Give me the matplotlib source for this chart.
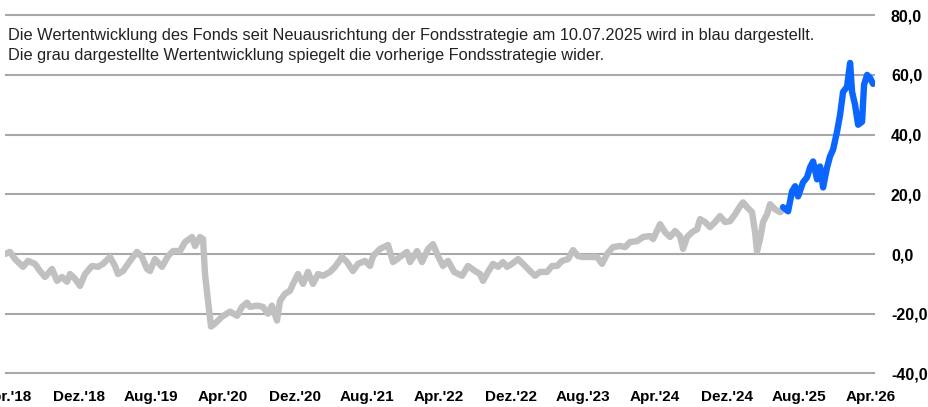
import matplotlib.pyplot as plt
from matplotlib.ticker import FuncFormatter

# Monate seit April 2018 und Wertentwicklung in %
monate_alt = [-0.22, 0.33, 0.89, 1.78, 2.33, 3.11, 3.67, 4.22, 5.0, 5.56, 6.11, 6.67, 7.0, 7.56,
              8.11, 8.67, 9.44, 10.11, 10.67, 11.44, 12.0, 12.33, 12.89, 13.67, 14.44, 15.0,
              15.56, 15.89, 16.44, 17.22, 17.89, 18.44, 19.22, 19.78, 20.56, 20.89, 21.44,
              21.78, 22.0, 22.33, 22.67, 23.11, 23.89, 24.78, 25.56, 26.11, 26.67, 27.0,
              27.78, 28.44, 29.0, 29.44, 30.0, 30.33, 30.89, 31.44, 31.78, 32.33, 32.89,
              33.44, 34.0, 34.56, 35.11, 35.89, 36.44, 37.22, 37.78, 38.44, 39.0, 39.78,
              40.33, 40.67, 41.44, 42.33, 42.89, 43.67, 44.44, 44.78, 45.56, 46.11, 46.78,
              47.33, 47.89, 48.44, 49.0, 49.67, 50.56, 51.22, 52.0, 52.56, 52.89, 53.44,
              54.0, 54.56, 55.11, 55.56, 56.11, 56.78, 57.33, 58.11, 58.67, 59.22, 60.0,
              60.56, 61.11, 61.67, 62.33, 62.89, 63.44, 64.0, 64.78, 65.56, 66.11, 66.67,
              67.33, 68.11, 68.67, 69.22, 70.0, 70.67, 71.44, 71.78, 72.56, 73.11, 73.67,
              74.22, 74.78, 75.11, 75.56, 76.11, 76.67, 77.0, 77.56, 78.11, 78.67, 79.22,
              79.78, 80.33, 80.89, 81.44, 81.78, 82.22, 82.78, 83.11, 83.33, 83.67, 84.0,
              84.44, 84.78, 85.33, 85.89, 86.22]
werte_alt = [0.0, 0.7, -1.7, -4.3, -2.3, -3.3, -5.7, -7.7, -5.0, -9.0, -7.7, -9.3, -6.7, -8.3,
             -10.7, -6.7, -4.0, -4.3, -3.3, -1.0, -4.0, -6.7, -5.7, -2.3, 0.7, -1.0,
             -5.0, -5.7, -1.7, -4.3, -0.7, 1.0, 1.0, 4.0, 5.7, 2.7, 5.7,
             5.0, -6.7, -15.7, -24.3, -23.3, -21.0, -19.3, -20.7, -17.7, -16.3, -17.7,
             -17.3, -17.7, -20.0, -17.3, -22.3, -15.7, -13.3, -12.3, -10.0, -6.7, -10.0,
             -6.0, -10.0, -6.7, -7.3, -6.0, -4.3, -1.0, -2.7, -5.7, -3.3, -2.3,
             -4.0, -0.7, 1.7, 3.0, -2.7, -1.0, 0.7, -2.7, 1.0, -2.7, 1.7,
             3.3, -0.7, -4.0, -2.3, -6.0, -7.3, -4.0, -5.7, -6.7, -9.0, -6.0,
             -3.3, -4.3, -2.7, -4.3, -3.3, -1.7, -3.3, -5.7, -7.3, -6.0, -6.0,
             -4.0, -4.0, -2.3, -1.7, 1.3, -0.7, -1.0, -1.0, -1.0, -3.3, 0.0,
             2.3, 2.7, 2.3, 4.0, 4.3, 5.7, 6.0, 5.0, 10.0, 7.3, 5.7,
             7.7, 6.0, 1.7, 5.7, 7.3, 8.3, 11.7, 10.7, 9.0, 10.7, 12.7,
             10.7, 11.0, 13.3, 16.0, 17.3, 15.7, 14.0, 7.3, 1.0, 5.0, 10.7,
             13.3, 16.7, 15.0, 14.0, 15.0]

# neue Fondsstrategie ab 10.07.2025
monate_neu = [86.22, 86.78, 87.22, 87.56, 87.89, 88.44, 88.89, 89.22, 89.56, 90.0, 90.33,
              90.67, 91.11, 91.44, 91.78, 92.22, 92.56, 92.89, 93.33, 93.67, 93.89, 94.22,
              94.56, 95.0, 95.22, 95.56, 95.89, 96.22]
werte_neu = [15.7, 14.3, 21.0, 22.7, 19.3, 24.0, 25.7, 29.0, 31.0, 25.0, 29.3,
             22.3, 29.0, 32.7, 35.0, 41.0, 46.7, 54.3, 56.0, 64.0, 54.3, 50.0,
             43.3, 44.3, 56.7, 60.0, 59.0, 57.0]

tick_monate = [0, 8, 16, 24, 32, 40, 48, 56, 64, 72, 80, 88, 96]
tick_labels = ["Apr.'18", "Dez.'18", "Aug.'19", "Apr.'20", "Dez.'20", "Aug.'21", "Apr.'22",
               "Dez.'22", "Aug.'23", "Apr.'24", "Dez.'24", "Aug.'25", "Apr.'26"]

plt.rcParams['font.family'] = ['Liberation Sans', 'DejaVu Sans']

fig = plt.figure(figsize=(9.29, 4.07), dpi=100)
ax = fig.add_axes([0.0054, 0.0752, 0.9365, 0.8948])

ax.plot(monate_alt, werte_alt, color='#c0c0c0', lw=4.6, solid_joinstyle='round',
        solid_capstyle='round', zorder=3)
ax.plot(monate_neu, werte_neu, color='#0a66ff', lw=4.6, solid_joinstyle='round',
        solid_capstyle='round', zorder=4)

ax.set_xlim(-0.22, 96.44)
ax.set_ylim(-41, 81)
ax.set_yticks(range(-40, 81, 20))
ax.yaxis.set_major_formatter(FuncFormatter(lambda v, p: f"{v:.1f}".replace('.', ',')))
ax.yaxis.tick_right()
ax.set_xticks(tick_monate)
ax.set_xticklabels(tick_labels)

ax.grid(axis='y', color='#a8a8a8', lw=1.5)
ax.set_axisbelow(True)
for s in ax.spines.values():
    s.set_visible(False)
ax.tick_params(axis='y', length=0, pad=11.5, labelsize=11.5)
ax.tick_params(axis='x', length=0, pad=10, labelsize=11)
for lab in ax.get_xticklabels() + ax.get_yticklabels():
    lab.set_fontweight('bold')

fig.text(0.0086, 0.913, "Die Wertentwicklung des Fonds seit Neuausrichtung der Fondsstrategie "
         "am 10.07.2025 wird in blau dargestellt.", fontsize=11.75, color='#222222', va='center')
fig.text(0.0086, 0.864, "Die grau dargestellte Wertentwicklung spiegelt die vorherige "
         "Fondsstrategie wider.", fontsize=11.75, color='#222222', va='center')

fig.savefig('out.png', dpi=100)
